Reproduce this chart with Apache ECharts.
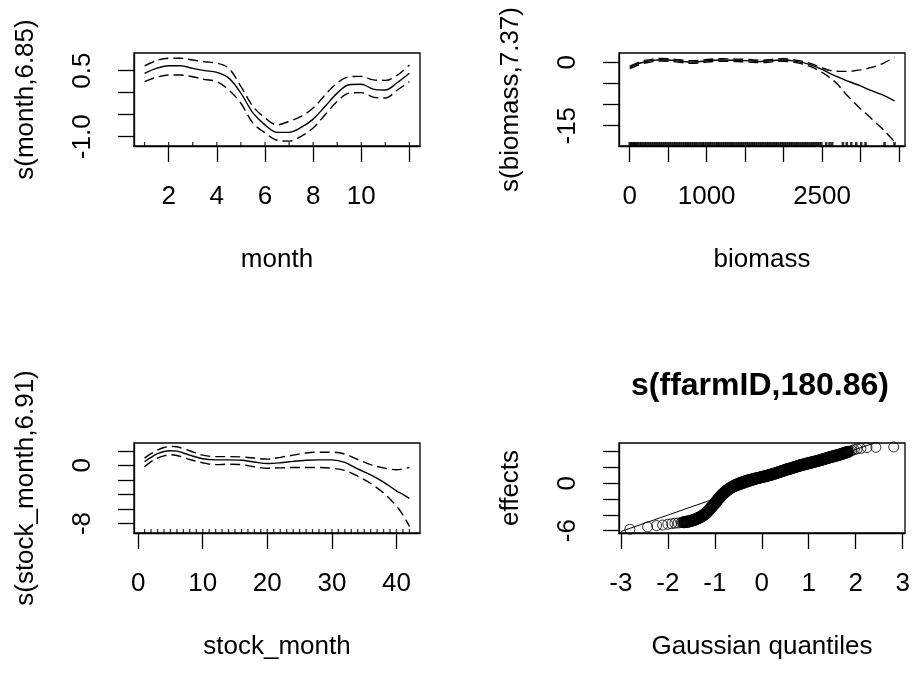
<!DOCTYPE html>
<html><head><meta charset="utf-8">
<script src="https://cdn.jsdelivr.net/npm/echarts@6.0.0/dist/echarts.min.js"></script>
<style>html,body{margin:0;padding:0;background:#fff}#c{width:914px;height:675px}</style>
</head><body><div id="c"></div>
<script>
// ---------- Panel 1: s(month,6.85) ----------
const monthX     = [1,1.5,2,2.5,3,3.5,4,4.5,5,5.5,6,6.5,7,7.5,8,8.5,9,9.5,10,10.5,11,11.5,12];
const monthFit   = [0.44,0.55,0.61,0.61,0.55,0.5,0.46,0.33,-0.01,-0.46,-0.73,-0.9,-0.9,-0.79,-0.6,-0.31,-0.01,0.18,0.19,0.08,0.06,0.23,0.44];
const monthUpper = [0.61,0.73,0.78,0.78,0.74,0.7,0.67,0.55,0.14,-0.31,-0.57,-0.73,-0.65,-0.54,-0.35,-0.05,0.22,0.36,0.37,0.29,0.28,0.4,0.63];
const monthLower = [0.25,0.35,0.4,0.4,0.36,0.3,0.25,0.06,-0.24,-0.69,-0.91,-1.08,-1.1,-0.99,-0.8,-0.5,-0.2,-0.01,0.0,-0.1,-0.12,0.06,0.25];
const monthRug   = [1,2,3,4,5,6,7,8,9,10,11,12];
const monthXTicks = [2,4,6,8,10,12];
const monthXLabels = [2,4,6,8,10];
const monthYTicks = [-1.0,-0.5,0,0.5];
const monthYLabels = [-1.0,0.5];

// ---------- Panel 2: s(biomass,7.37) ----------
const biomassX     = [0,40,90,150,220,300,400,500,600,700,800,900,1000,1100,1200,1300,1400,1500,1600,1700,1800,1900,2000,2100,2200,2300,2400,2500,2600,2700,2800,2900,3000,3100,3200,3300,3442];
const biomassFit   = [-1.2,-0.9,-0.5,-0.1,0.2,0.45,0.6,0.55,0.4,0.2,0.05,0.15,0.35,0.5,0.55,0.5,0.45,0.4,0.3,0.2,0.3,0.5,0.55,0.4,0.1,-0.3,-0.9,-1.7,-2.6,-3.4,-4.2,-4.9,-5.6,-6.4,-7.1,-7.8,-9.1];
const biomassUpper = [-0.9,-0.6,-0.2,0.2,0.5,0.75,0.9,0.85,0.7,0.5,0.35,0.45,0.65,0.8,0.85,0.8,0.75,0.7,0.6,0.5,0.6,0.8,0.85,0.7,0.4,0.0,-0.6,-1.3,-1.9,-2.1,-2.15,-2.05,-1.8,-1.4,-0.9,-0.2,1.2];
const biomassLower = [-1.5,-1.2,-0.8,-0.4,-0.1,0.15,0.3,0.25,0.1,-0.1,-0.25,-0.15,0.05,0.2,0.25,0.2,0.15,0.1,0.0,-0.1,0.0,0.2,0.25,0.1,-0.2,-0.7,-1.4,-2.4,-3.6,-5.2,-7.3,-9.2,-11.0,-12.6,-14.3,-16.0,-18.8];
const biomassRug = [0,18,35,52,70,88,105,130,150,172,195,215,240,262,285,310,333,355,380,402,425,450,472,498,520,545,570,592,615,640,662,688,710,735,758,780,805,830,852,875,900,925,948,970,995,1020,1042,1065,1090,1115,1138,1160,1185,1210,1232,1255,1280,1305,1328,1350,1375,1400,1422,1445,1470,1495,1518,1540,1565,1590,1612,1635,1660,1685,1708,1730,1755,1780,1802,1825,1850,1875,1898,1920,1945,1970,1992,2015,2040,2065,2088,2110,2135,2160,2182,2205,2230,2255,2278,2300,2325,2350,2372,2395,2420,2445,2468,2490,2554,2597,2632,2771,2822,2879,2944,3009,3065,3312,3442];
const biomassXTicks = [0,500,1000,1500,2000,2500,3000,3500];
const biomassXLabels = [0,1000,2500];
const biomassYTicks = [-15,-10,-5,0];
const biomassYLabels = [-15,0];

// ---------- Panel 3: s(stock_month,6.91) ----------
const stockX     = [1,2,3,4,5,6,7,8,10,12,14,16,18,20,22,24,26,28,30,32,34,36,38,40,41,42];
const stockFit   = [0.5,1.1,1.6,1.9,2.0,1.95,1.7,1.4,0.9,0.75,0.75,0.7,0.45,0.25,0.35,0.55,0.7,0.75,0.75,0.4,-0.5,-1.3,-2.3,-3.5,-4.0,-4.55];
const stockUpper = [1.0,1.6,2.1,2.45,2.6,2.55,2.3,2.0,1.4,1.2,1.2,1.15,1.0,0.85,1.1,1.4,1.7,1.8,1.8,1.55,0.8,0.1,-0.35,-0.6,-0.5,-0.3];
const stockLower = [-0.2,0.5,1.0,1.3,1.45,1.35,1.1,0.8,0.35,0.1,0.15,0.1,-0.2,-0.4,-0.35,-0.3,-0.3,-0.3,-0.4,-0.7,-1.5,-2.5,-3.8,-5.6,-6.8,-8.4];
const stockRug = [1,2,3,4,5,6,7,8,9,10,11,12,13,14,15,16,17,18,19,20,21,22,23,24,25,26,27,28,29,30,31,32,33,34,35,36,37,38,39,40,41,42];
const stockXTicks = [0,10,20,30,40];
const stockXLabels = [0,10,20,30,40];
const stockYTicks = [-8,-6,-4,-2,0,2];
const stockYLabels = [-8,0];

// ---------- Panel 4: s(ffarmID,180.86) QQ plot ----------
// sparse lower tail
const qqLowX = [-2.81,-2.43,-2.24,-2.11,-2.00,-1.92,-1.85,-1.78,-1.72,-1.69];
const qqLowY = [-5.82,-5.52,-5.35,-5.28,-5.18,-5.12,-5.05,-5.02,-4.98,-4.95];
// dense central band
const qqMidX = [
  -1.66,-1.64,-1.62,-1.60,-1.58,-1.56,-1.54,-1.52,-1.50,-1.48,
  -1.46,-1.44,-1.42,-1.40,-1.38,-1.36,-1.34,-1.32,-1.30,-1.28,
  -1.26,-1.24,-1.22,-1.20,-1.18,-1.16,-1.14,-1.12,-1.10,-1.08,
  -1.06,-1.04,-1.02,-1.00,-0.98,-0.96,-0.94,-0.92,-0.90,-0.88,
  -0.86,-0.84,-0.82,-0.80,-0.78,-0.76,-0.74,-0.72,-0.70,-0.68,
  -0.66,-0.64,-0.62,-0.60,-0.58,-0.56,-0.54,-0.52,-0.50,-0.48,
  -0.46,-0.44,-0.42,-0.40,-0.38,-0.36,-0.34,-0.32,-0.30,-0.28,
  -0.26,-0.24,-0.22,-0.20,-0.18,-0.16,-0.14,-0.12,-0.10,-0.08,
  -0.06,-0.04,-0.02,0.00,0.02,0.04,0.06,0.08,0.10,0.12,
  0.14,0.16,0.18,0.20,0.22,0.24,0.26,0.28,0.30,0.32,
  0.34,0.36,0.38,0.40,0.42,0.44,0.46,0.48,0.50,0.52,
  0.54,0.56,0.58,0.60,0.62,0.64,0.66,0.68,0.70,0.72,
  0.74,0.76,0.78,0.80,0.82,0.84,0.86,0.88,0.90,0.92,
  0.94,0.96,0.98,1.00,1.02,1.04,1.06,1.08,1.10,1.12,
  1.14,1.16,1.18,1.20,1.22,1.24,1.26,1.28,1.30,1.32,
  1.34,1.36,1.38,1.40,1.42,1.44,1.46,1.48,1.50,1.52,
  1.54,1.56,1.58,1.60,1.62,1.64,1.66,1.68,1.70,1.72,
  1.74,1.76,1.78,1.80,1.82,1.84];
const qqMidY = [
  -4.92,-4.91,-4.89,-4.88,-4.86,-4.83,-4.81,-4.78,-4.74,-4.71,
  -4.67,-4.63,-4.58,-4.53,-4.48,-4.43,-4.38,-4.32,-4.25,-4.18,
  -4.1,-4.02,-3.94,-3.85,-3.74,-3.62,-3.5,-3.36,-3.22,-3.08,
  -2.95,-2.81,-2.68,-2.54,-2.4,-2.25,-2.1,-1.96,-1.82,-1.69,
  -1.56,-1.43,-1.31,-1.19,-1.09,-0.99,-0.9,-0.81,-0.72,-0.64,
  -0.57,-0.5,-0.43,-0.36,-0.3,-0.24,-0.19,-0.13,-0.08,-0.03,
  0.01,0.06,0.1,0.14,0.18,0.22,0.26,0.3,0.33,0.36,
  0.39,0.43,0.46,0.49,0.52,0.55,0.58,0.61,0.64,0.67,
  0.7,0.73,0.76,0.79,0.82,0.85,0.87,0.9,0.93,0.96,
  0.99,1.03,1.06,1.1,1.13,1.17,1.2,1.24,1.28,1.32,
  1.36,1.4,1.44,1.48,1.52,1.56,1.6,1.64,1.68,1.72,
  1.75,1.79,1.82,1.86,1.9,1.93,1.97,2.0,2.04,2.08,
  2.12,2.16,2.2,2.23,2.27,2.3,2.33,2.37,2.4,2.43,
  2.46,2.49,2.52,2.55,2.58,2.61,2.63,2.66,2.7,2.73,
  2.76,2.79,2.82,2.85,2.88,2.92,2.95,2.98,3.02,3.06,
  3.1,3.13,3.17,3.2,3.24,3.27,3.3,3.34,3.37,3.4,
  3.43,3.47,3.5,3.53,3.57,3.6,3.64,3.67,3.7,3.75,
  3.8,3.83,3.87,3.9,3.94,3.98];
// sparse upper tail
const qqHighX = [1.88,1.92,1.97,2.03,2.11,2.24,2.43,2.81];
const qqHighY = [4.05,4.15,4.25,4.35,4.42,4.52,4.55,4.6];
const qqLineX = [-3.0, 2.38];
const qqLineY = [-6.1, 5.07];
const qqXTicks = [-3,-2,-1,0,1,2,3];
const qqXLabels = [-3,-2,-1,0,1,2,3];
const qqYTicks = [-6,-4,-2,0,2,4];
const qqYLabels = [-6,0];

// ---------- layout & style ----------
const FONT = 'Liberation Sans, Arial, sans-serif';
const FS = 26;
const layout = [
  {left:134, top:53,  width:286, height:93},
  {left:619, top:53,  width:286, height:93},
  {left:134, top:443, width:286, height:90},
  {left:619, top:443, width:286, height:90}
];
const ranges = [
  {x:[0.56,12.44],   y:[-1.21,0.9]},
  {x:[-139,3578],    y:[-19.8,2.2]},
  {x:[-0.64,43.64],  y:[-9.3,3.07]},
  {x:[-3.04,3.05],   y:[-6.29,5.1]}
];
const axisDefs = [
  {xt:monthXTicks, xl:monthXLabels, yt:monthYTicks, yl:monthYLabels, xn:'month', yn:'s(month,6.85)', yf:v=>Number(v).toFixed(1)},
  {xt:biomassXTicks, xl:biomassXLabels, yt:biomassYTicks, yl:biomassYLabels, xn:'biomass', yn:'s(biomass,7.37)', yf:v=>String(v)},
  {xt:stockXTicks, xl:stockXLabels, yt:stockYTicks, yl:stockYLabels, xn:'stock_month', yn:'s(stock_month,6.91)', yf:v=>String(v)},
  {xt:qqXTicks, xl:qqXLabels, yt:qqYTicks, yl:qqYLabels, xn:'Gaussian quantiles', yn:'effects', yf:v=>String(v)}
];

const grids = layout.map(l => Object.assign({show:true, borderColor:'#000', borderWidth:1.3, backgroundColor:'transparent', containLabel:false}, l));
const txt = {color:'#000', fontSize:FS, fontFamily:FONT};
const xAxes = axisDefs.map((d,i) => ({
  type:'value', gridIndex:i, position:'bottom', min:ranges[i].x[0], max:ranges[i].x[1],
  axisLine:{show:true, onZero:false, lineStyle:{color:'#000', width:1.3}},
  axisTick:{show:true, length:16, inside:false, customValues:d.xt, lineStyle:{color:'#000', width:1.3}},
  axisLabel:Object.assign({show:true, margin:38, customValues:d.xl, formatter:v=>String(v), hideOverlap:false, showMinLabel:true, showMaxLabel:true}, txt),
  splitLine:{show:false},
  name:d.xn, nameLocation:'middle', nameGap:101, nameTextStyle:txt
}));
const yAxes = axisDefs.map((d,i) => ({
  type:'value', gridIndex:i, position:'left', min:ranges[i].y[0], max:ranges[i].y[1],
  axisLine:{show:true, onZero:false, lineStyle:{color:'#000', width:1.3}},
  axisTick:{show:true, length:16, inside:false, customValues:d.yt, lineStyle:{color:'#000', width:1.3}},
  axisLabel:Object.assign({show:true, margin:38, rotate:90, customValues:d.yl, formatter:d.yf, hideOverlap:false, showMinLabel:true, showMaxLabel:true}, txt),
  splitLine:{show:false},
  name:d.yn, nameLocation:'middle', nameGap:95, nameRotate:90, nameTextStyle:txt
}));

function zip(xs, ys){ return xs.map((x,k)=>[x, ys[k]]); }
function curve(i, xs, ys, dashed){
  return {type:'line', xAxisIndex:i, yAxisIndex:i, data:zip(xs,ys), showSymbol:false, symbol:'none', smooth:0.35,
    lineStyle:{color:'#000', width:1.4, type: dashed ? [10,5] : 'solid'}, silent:true, animation:false, clip:true};
}
function rug(i, xs, w){
  return {type:'scatter', xAxisIndex:i, yAxisIndex:i, data:xs.map(x=>[x, ranges[i].y[0]]), symbol:'rect', symbolSize:[w,4], symbolOffset:[0,-2],
    itemStyle:{color:'#000'}, silent:true, animation:false, clip:false};
}
function circles(xs, ys, bw){
  return {type:'scatter', xAxisIndex:3, yAxisIndex:3, data:zip(xs, ys), symbol:'circle', symbolSize:10,
    itemStyle:{color:'rgba(0,0,0,0)', borderColor:'#000', borderWidth:bw}, silent:true, animation:false, clip:true};
}

const series = [
  curve(0, monthX, monthFit, false), curve(0, monthX, monthUpper, true), curve(0, monthX, monthLower, true), rug(0, monthRug, 1.3),
  curve(1, biomassX, biomassFit, false), curve(1, biomassX, biomassUpper, true), curve(1, biomassX, biomassLower, true), rug(1, biomassRug, 2.6),
  curve(2, stockX, stockFit, false), curve(2, stockX, stockUpper, true), curve(2, stockX, stockLower, true), rug(2, stockRug, 1.3),
  {type:'line', xAxisIndex:3, yAxisIndex:3, data:zip(qqLineX, qqLineY), showSymbol:false, symbol:'none', lineStyle:{color:'#000', width:1}, silent:true, animation:false},
  circles(qqLowX, qqLowY, 1), circles(qqMidX, qqMidY, 2.2), circles(qqHighX, qqHighY, 1)
];

const chart = echarts.init(document.getElementById('c'), null, {renderer:'canvas'});
chart.setOption({
  animation:false,
  backgroundColor:'#fff',
  title:{text:'s(ffarmID,180.86)', left:755, top:365, textAlign:'center',
    textStyle:{color:'#000', fontSize:32, fontWeight:'bold', fontFamily:FONT}},
  grid:grids, xAxis:xAxes, yAxis:yAxes, series:series
});
</script></body></html>
